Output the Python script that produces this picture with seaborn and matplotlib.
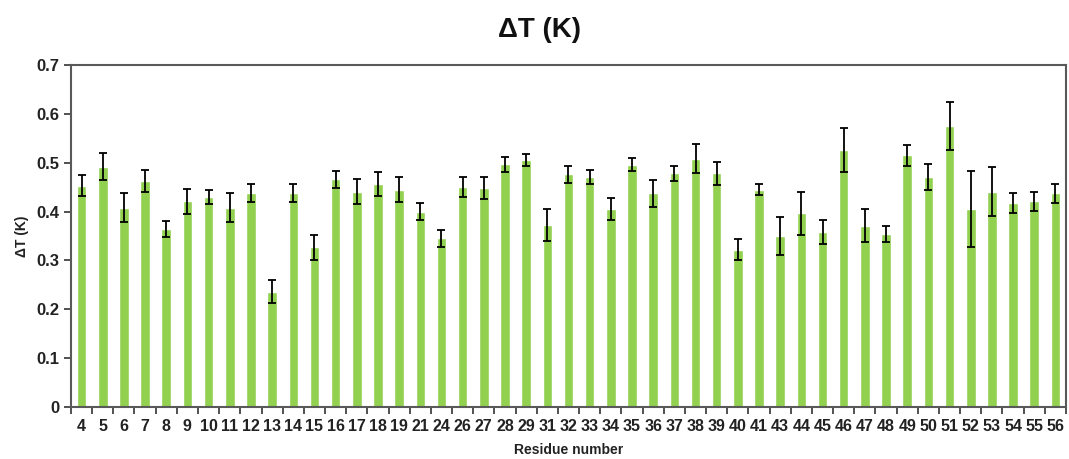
import numpy as np
import pandas as pd
import seaborn as sns
import matplotlib
matplotlib.use("Agg")
import matplotlib.pyplot as plt

# Residue numbers on the x axis
residues = ["4", "5", "6", "7", "8", "9", "10", "11", "12", "13", "14", "15", "16",
            "17", "18", "19", "21", "24", "26", "27", "28", "29", "31", "32", "33",
            "34", "35", "36", "37", "38", "39", "40", "41", "43", "44", "45", "46",
            "47", "48", "49", "50", "51", "52", "53", "54", "55", "56"]

# Mean delta T (K) per residue
delta_t = [0.453, 0.492, 0.408, 0.463, 0.364, 0.421, 0.430, 0.408, 0.438, 0.236,
           0.438, 0.327, 0.466, 0.441, 0.457, 0.445, 0.400, 0.345, 0.450, 0.448,
           0.497, 0.505, 0.372, 0.476, 0.471, 0.405, 0.496, 0.437, 0.478, 0.508,
           0.478, 0.322, 0.445, 0.350, 0.397, 0.358, 0.526, 0.371, 0.354, 0.515,
           0.471, 0.575, 0.405, 0.441, 0.418, 0.421, 0.437]

# Error bar half-lengths
errors = [0.022, 0.028, 0.030, 0.023, 0.017, 0.025, 0.014, 0.030, 0.019, 0.023,
          0.019, 0.026, 0.018, 0.026, 0.025, 0.025, 0.018, 0.018, 0.020, 0.022,
          0.015, 0.012, 0.033, 0.017, 0.015, 0.023, 0.013, 0.028, 0.015, 0.030,
          0.023, 0.022, 0.012, 0.039, 0.044, 0.025, 0.046, 0.034, 0.017, 0.022,
          0.027, 0.050, 0.078, 0.050, 0.020, 0.020, 0.020]

yticks = [0, 0.1, 0.2, 0.3, 0.4, 0.5, 0.6, 0.7]

df = pd.DataFrame({"residue": residues, "dt": delta_t, "err": errors})

sns.set_theme(style="white")
plt.rcParams["font.family"] = ["Liberation Sans", "DejaVu Sans"]
narrow = ["Liberation Sans Narrow", "Liberation Sans", "DejaVu Sans"]

fig = plt.figure(figsize=(10.69, 4.59), dpi=100)
ax = fig.add_axes([0.0664, 0.1133, 0.9308, 0.7451])

sns.barplot(data=df, x="residue", y="dt", order=residues, color="#92D050",
            saturation=1, width=0.45, ax=ax)
ax.errorbar(np.arange(len(residues)), df["dt"], yerr=df["err"], fmt="none",
            ecolor="black", elinewidth=1.3, capsize=3, capthick=1.3)

ax.set_xlim(-0.5, len(residues) - 0.5)
ax.set_ylim(0, 0.7)
ax.set_yticks(yticks)
ax.set_yticklabels([("%g" % v) for v in yticks], fontsize=12, fontweight="bold",
                   color="#222222")

# Excel-style ticks between categories
ax.set_xticks(np.arange(-0.5, len(residues), 1), minor=True)
ax.tick_params(axis="x", which="major", length=0, pad=9)
ax.tick_params(axis="x", which="minor", length=5, width=1.2, color="#333333",
               direction="out", bottom=True)
ax.tick_params(axis="y", length=5, width=1.2, color="#333333", direction="out",
               left=True)
for lab in ax.get_xticklabels():
    lab.set_fontfamily(narrow)
    lab.set_fontsize(11.5)
    lab.set_fontweight("bold")
    lab.set_color("#222222")

for sp in ax.spines.values():
    sp.set_color("#595959")
    sp.set_linewidth(1.5)

ax.set_xlabel("Residue number", fontsize=10, fontweight="bold", family=narrow,
              color="#222222", labelpad=6)
ax.set_ylabel("\u0394T (K)", fontsize=10, fontweight="bold", color="#222222",
              labelpad=5)

fig.text(0.505, 0.935, "\u0394T (K)", ha="center", va="center", fontsize=20,
         fontweight="bold", color="#111111")

fig.savefig("out.png", dpi=100)
